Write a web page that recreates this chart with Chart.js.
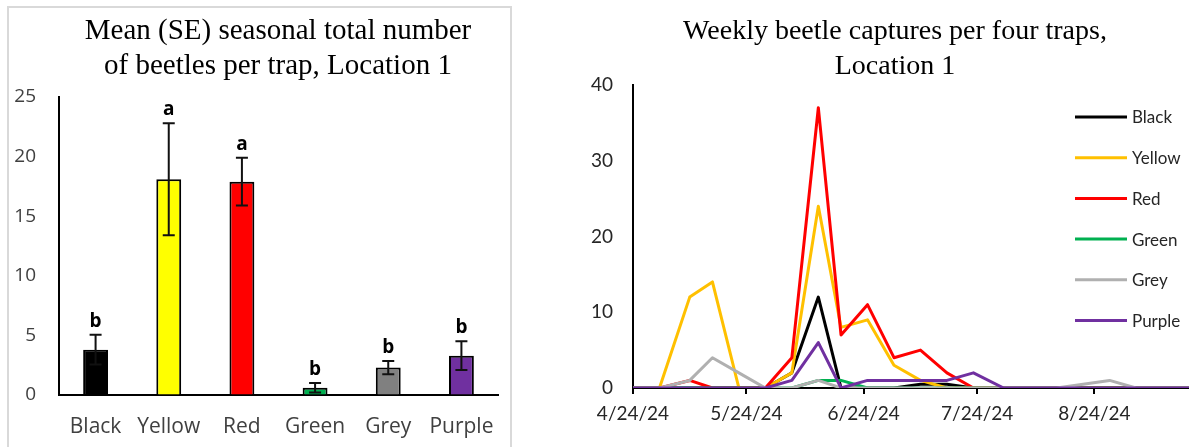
<!DOCTYPE html>
<html>
<head>
<meta charset="utf-8">
<script src="https://cdn.jsdelivr.net/npm/chart.js@4.4.1/dist/chart.umd.min.js"></script>
<style>
  html, body { margin: 0; padding: 0; background: #fff; }
  body { width: 1189px; height: 447px; position: relative; overflow: hidden; }
  #left-frame {
    position: absolute; left: 7px; top: 6px; width: 505px; height: 445px;
    border: 2px solid #d9d9d9; box-sizing: border-box;
  }
  #bar-chart { position: absolute; left: 0; top: 0; }
  #line-chart { position: absolute; left: 520px; top: 0; }
</style>
</head>
<body>
<div id="left-frame"></div>
<canvas id="bar-chart" width="520" height="447"></canvas>
<canvas id="line-chart" width="669" height="447"></canvas>
<script>
// --- Dados: gráfico de barras (média sazonal por armadilha) ---
const trapColors = ['Black', 'Yellow', 'Red', 'Green', 'Grey', 'Purple'];
const meanTotals = [3.8, 18.1, 17.9, 0.6, 2.3, 3.3];
const seTotals = [1.25, 4.7, 2.0, 0.4, 0.55, 1.2];
const sigLetters = ['b', 'a', 'a', 'b', 'b', 'b'];
const barFills = ['#000000', '#ffff00', '#ff0000', '#00b050', '#808080', '#7030a0'];

// --- Dados: capturas semanais ---
const sampleDates = ['4/24/24', '5/1/24', '5/9/24', '5/15/24', '5/22/24', '5/29/24', '6/5/24', '6/12/24',
  '6/18/24', '6/25/24', '7/2/24', '7/9/24', '7/16/24', '7/23/24', '7/31/24', '8/7/24', '8/14/24',
  '8/21/24', '8/28/24', '9/4/24', '9/11/24', '9/18/24'];
const weeklyBlack  = [0, 0, 0, 0, 0, 0, 2, 12, 0, 0, 0, 0.5, 0.5, 0, 0, 0, 0, 0, 0, 0, 0, 0];
const weeklyYellow = [0, 0, 12, 14, 0, 0, 2, 24, 8, 9, 3, 1, 0, 0, 0, 0, 0, 0, 0, 0, 0, 0];
const weeklyRed    = [0, 0, 1, 0, 0, 0, 4, 37, 7, 11, 4, 5, 2, 0, 0, 0, 0, 0, 0, 0, 0, 0];
const weeklyGreen  = [0, 0, 0, 0, 0, 0, 0, 1, 1, 0, 0, 0, 0, 0, 0, 0, 0, 0, 0, 0, 0, 0];
const weeklyGrey   = [0, 0, 1, 4, 2, 0, 0, 1, 0, 0, 0, 0, 0, 0, 0, 0, 0, 0.5, 1, 0, 0, 0];
const weeklyPurple = [0, 0, 0, 0, 0, 0, 1, 6, 0, 1, 1, 1, 1, 2, 0, 0, 0, 0, 0, 0, 0, 0];
const lineColors = ['#000000', '#ffc000', '#ff0000', '#00b050', '#b0b0b0', '#7030a0'];
const dateTickLabels = ['4/24/24', '5/24/24', '6/24/24', '7/24/24', '8/24/24'];
const axisEndDate = '9/18/24';

// dias desde a primeira data
function dayOffset(s) {
  const [m, d, y] = s.split('/').map(Number);
  return (Date.UTC(2000 + y, m - 1, d) - Date.UTC(2024, 3, 24)) / 86400000;
}

// Título em duas linhas (fonte serifada)
const headingPlugin = {
  id: 'heading',
  afterDraw(chart, args, opts) {
    const ctx = chart.ctx;
    ctx.save();
    ctx.font = opts.size + 'px "Liberation Serif"';
    ctx.fillStyle = '#000';
    ctx.textAlign = 'center';
    ctx.textBaseline = 'alphabetic';
    opts.lines.forEach((t, i) => ctx.fillText(t, opts.x, opts.y + i * 35));
    ctx.restore();
  }
};

// Barras de erro + letras de significância
const errorBarPlugin = {
  id: 'errorBars',
  afterDatasetsDraw(chart) {
    const { ctx } = chart;
    const y = chart.scales.y;
    const meta = chart.getDatasetMeta(0);
    ctx.save();
    ctx.strokeStyle = '#111';
    ctx.lineWidth = 2;
    ctx.fillStyle = '#000';
    ctx.font = 'bold 19px "Open Sans"';
    ctx.textAlign = 'center';
    ctx.textBaseline = 'bottom';
    meta.data.forEach((bar, i) => {
      const top = y.getPixelForValue(meanTotals[i] + seTotals[i]);
      const bottom = y.getPixelForValue(meanTotals[i] - seTotals[i]);
      ctx.beginPath();
      ctx.moveTo(bar.x, top); ctx.lineTo(bar.x, bottom);
      ctx.moveTo(bar.x - 6, top); ctx.lineTo(bar.x + 6, top);
      ctx.moveTo(bar.x - 6, bottom); ctx.lineTo(bar.x + 6, bottom);
      ctx.stroke();
      ctx.fillText(sigLetters[i], bar.x, top - 4);
    });
    ctx.restore();
  }
};

// Legenda dentro da área do gráfico
const sideLegendPlugin = {
  id: 'sideLegend',
  afterDraw(chart) {
    const ctx = chart.ctx;
    const x0 = chart.chartArea.right - 114;
    ctx.save();
    ctx.font = '17px Lato';
    ctx.textBaseline = 'middle';
    ctx.lineWidth = 3;
    chart.data.datasets.forEach((ds, i) => {
      const yy = 117 + i * 40.7;
      ctx.strokeStyle = ds.borderColor;
      ctx.beginPath();
      ctx.moveTo(x0, yy); ctx.lineTo(x0 + 52, yy);
      ctx.stroke();
      ctx.fillStyle = '#262626';
      ctx.fillText(ds.label, x0 + 57, yy + 1);
    });
    ctx.restore();
  }
};

// --- Gráfico de barras ---
new Chart(document.getElementById('bar-chart'), {
  type: 'bar',
  data: {
    labels: trapColors,
    datasets: [{
      data: meanTotals,
      backgroundColor: barFills,
      borderColor: '#000',
      borderWidth: 2,
      barPercentage: 0.34,
      categoryPercentage: 1.0
    }]
  },
  options: {
    responsive: false,
    animation: false,
    layout: { padding: { top: 97, right: 22, left: 0, bottom: 0 } },
    plugins: {
      legend: { display: false },
      tooltip: { enabled: false },
      heading: { lines: ['Mean (SE) seasonal total number', 'of beetles per trap, Location 1'], x: 278, y: 39, size: 29 }
    },
    scales: {
      x: {
        grid: { display: true, drawOnChartArea: false, drawTicks: false },
        border: { display: true, color: '#000', width: 2 },
        ticks: { color: '#404040', font: { family: 'Open Sans', size: 21 }, padding: 19 },
        afterFit: (s) => { s.height = 52; }
      },
      y: {
        min: 0, max: 25,
        grid: { display: true, drawOnChartArea: false, drawTicks: false },
        border: { display: true, color: '#000', width: 2 },
        ticks: { stepSize: 5, color: '#404040', font: { family: 'Open Sans', size: 19 }, padding: 23 },
        afterFit: (s) => { s.width = 59; }
      }
    }
  },
  plugins: [errorBarPlugin, headingPlugin]
});

// --- Gráfico de linhas ---
const weeklySeries = [weeklyBlack, weeklyYellow, weeklyRed, weeklyGreen, weeklyGrey, weeklyPurple];
const sampleDays = sampleDates.map(dayOffset);

new Chart(document.getElementById('line-chart'), {
  type: 'line',
  data: {
    datasets: weeklySeries.map((vals, i) => ({
      label: trapColors[i],
      data: vals.map((v, j) => ({ x: sampleDays[j], y: v })),
      borderColor: lineColors[i],
      borderWidth: 3,
      borderJoinStyle: 'round',
      borderCapStyle: 'round',
      pointRadius: 0,
      tension: 0,
      fill: false,
      order: weeklySeries.length - i   // Purple por cima, como no Excel
    }))
  },
  options: {
    responsive: false,
    animation: false,
    layout: { padding: { top: 85, right: 0, left: 0, bottom: 0 } },
    plugins: {
      legend: { display: false },
      tooltip: { enabled: false },
      heading: { lines: ['Weekly beetle captures per four traps,', 'Location 1'], x: 375, y: 39, size: 28 }
    },
    scales: {
      x: {
        type: 'linear',
        min: 0,
        max: dayOffset(axisEndDate),
        afterBuildTicks: (s) => { s.ticks = dateTickLabels.map(t => ({ value: dayOffset(t) })); },
        grid: { display: true, drawOnChartArea: false, drawTicks: true, tickLength: 6, color: '#000', lineWidth: 2 },
        border: { display: true, color: '#000', width: 2 },
        ticks: {
          autoSkip: false, maxRotation: 0,
          color: '#262626', font: { family: 'Lato', size: 19 }, padding: 8,
          callback: (v) => dateTickLabels.find(t => dayOffset(t) === v) || ''
        },
        afterFit: (s) => { s.height = 59; }
      },
      y: {
        min: 0, max: 40,
        grid: { display: true, drawOnChartArea: false, drawTicks: false },
        border: { display: true, color: '#000', width: 2 },
        ticks: { stepSize: 10, color: '#262626', font: { family: 'Lato', size: 19 }, padding: 20 },
        afterFit: (s) => { s.width = 113; }
      }
    }
  },
  plugins: [sideLegendPlugin, headingPlugin]
});
</script>
</body>
</html>
